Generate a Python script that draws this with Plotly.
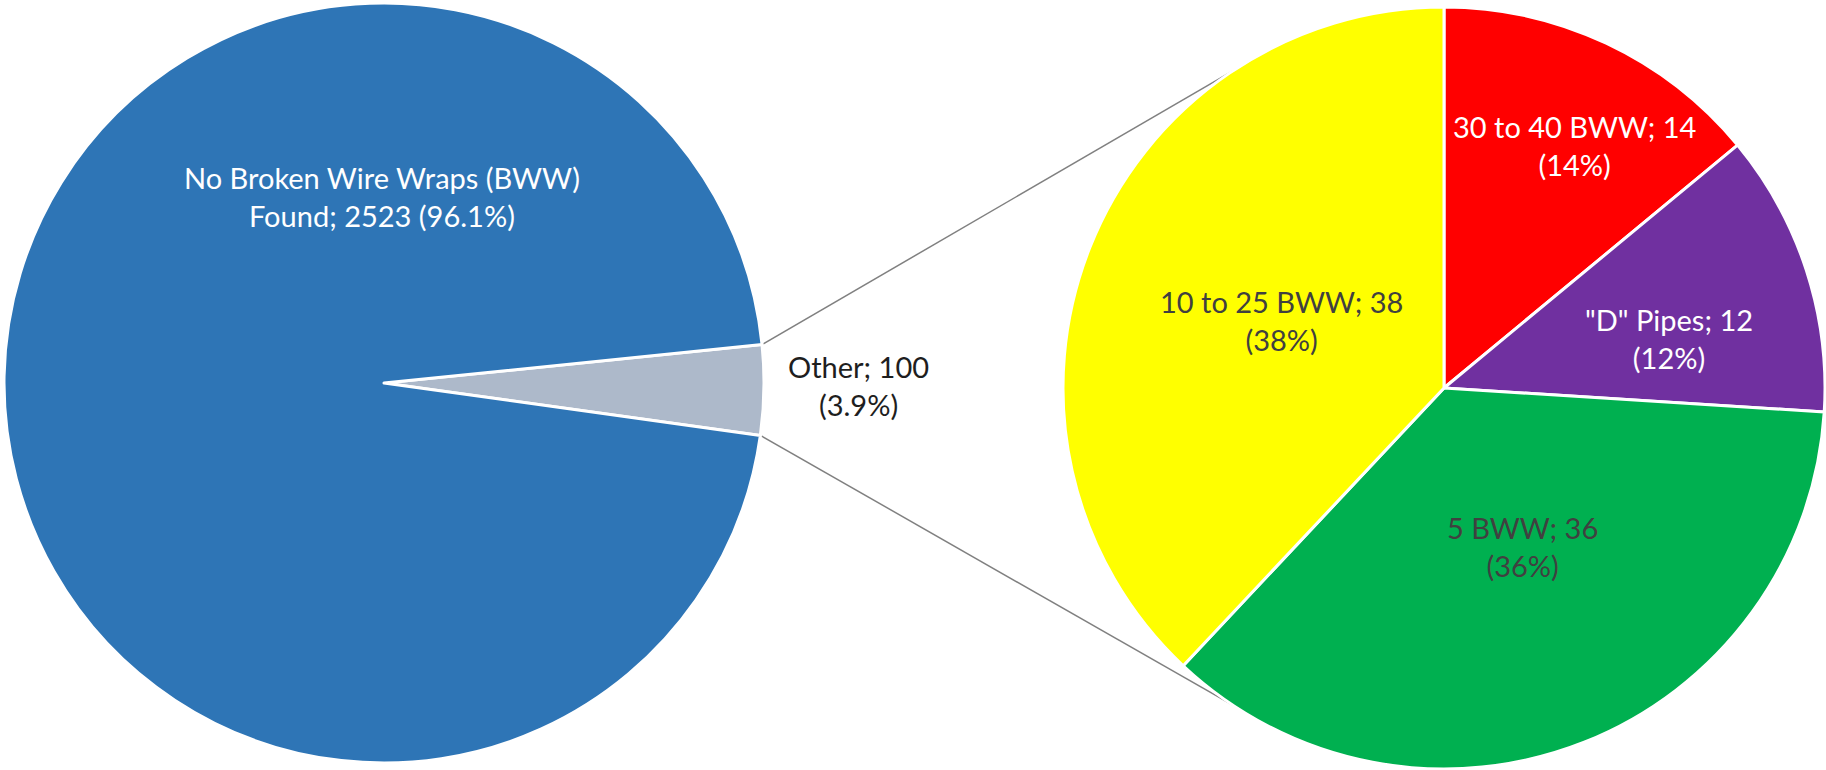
import math
import plotly.graph_objects as go

W, H = 1826, 770

# ---- data ----
main_labels = ["Other", "No Broken Wire Wraps (BWW) Found"]
main_values = [100, 2523]
main_pct = ["3.9%", "96.1%"]
main_colors = ["#ADB9CA", "#2E75B6"]
main_text_colors = ["#1E1E1E", "#FFFFFF"]

sub_labels = ["30 to 40 BWW", '"D" Pipes', "5 BWW", "10 to 25 BWW"]
sub_values = [14, 12, 36, 38]
sub_pct = ["14%", "12%", "36%", "38%"]
sub_colors = ["#FF0000", "#7030A0", "#00B050", "#FFFF00"]
sub_text_colors = ["#FFFFFF", "#FFFFFF", "#404040", "#404040"]

# ---- layout geometry (pixels) ----
L_CX, L_CY, L_R = 384, 383, 380
R_CX, R_CY, R_R = 1444, 388, 381
MAIN_ROT = 84.2          # start of "Other" slice, clockwise from 12 o'clock
CONNECT_ANG = 123.5      # where connector lines meet the second pie (deg from +x)

# label anchor positions (pixels)
main_label_pos = [(858, 386), (382, 197)]
sub_label_pos = [(1574, 146), (1669, 338), (1522, 546), (1281, 320)]

FONT = "Lato, Calibri, Carlito, 'Open Sans', sans-serif"
FS = 29


def dom(cx, cy, r):
    return dict(x=[(cx - r) / W, (cx + r) / W],
                y=[1 - (cy + r) / H, 1 - (cy - r) / H])


def two_lines(label, value, pct):
    first = f"{label}; {value}"
    if len(first) > 20:
        head, tail = label.rsplit(" ", 1)
        return f"{head}<br>{tail}; {value} ({pct})"
    return f"{first}<br>({pct})"


fig = go.Figure()
fig.add_trace(go.Pie(
    labels=main_labels, values=main_values, sort=False,
    direction="clockwise", rotation=MAIN_ROT,
    marker=dict(colors=main_colors, line=dict(color="white", width=3)),
    textinfo="none", hoverinfo="label+value", showlegend=False,
    domain=dom(L_CX, L_CY, L_R),
))
fig.add_trace(go.Pie(
    labels=sub_labels, values=sub_values, sort=False,
    direction="clockwise", rotation=0,
    marker=dict(colors=sub_colors, line=dict(color="white", width=3)),
    textinfo="none", hoverinfo="label+value", showlegend=False,
    domain=dom(R_CX, R_CY, R_R),
))

annotations = []
for lab, val, pct, col, (px, py) in zip(main_labels, main_values, main_pct,
                                         main_text_colors, main_label_pos):
    annotations.append(dict(
        x=px / W, y=1 - py / H, xref="paper", yref="paper",
        text=two_lines(lab, val, pct), showarrow=False,
        font=dict(family=FONT, size=FS, color=col),
        xanchor="center", yanchor="middle", align="center"))
for lab, val, pct, col, (px, py) in zip(sub_labels, sub_values, sub_pct,
                                         sub_text_colors, sub_label_pos):
    annotations.append(dict(
        x=px / W, y=1 - py / H, xref="paper", yref="paper",
        text=two_lines(lab, val, pct), showarrow=False,
        font=dict(family=FONT, size=FS, color=col),
        xanchor="center", yanchor="middle", align="center"))

# connector lines from the "Other" slice corners to the second pie
span = 360.0 * main_values[0] / sum(main_values)
a0 = math.radians(MAIN_ROT - 90)
a1 = math.radians(MAIN_ROT - 90 + span)
shapes = []
for a_left, a_right in ((a0, -CONNECT_ANG), (a1, CONNECT_ANG)):
    x0 = L_CX + L_R * math.cos(a_left)
    y0 = L_CY + L_R * math.sin(a_left)
    ar = math.radians(a_right)
    x1 = R_CX + R_R * math.cos(ar)
    y1 = R_CY + R_R * math.sin(ar)
    shapes.append(dict(type="line", xref="paper", yref="paper",
                       x0=x0 / W, y0=1 - y0 / H, x1=x1 / W, y1=1 - y1 / H,
                       line=dict(color="#808080", width=1.5), layer="below"))

fig.update_layout(
    width=W, height=H,
    margin=dict(l=0, r=0, t=0, b=0),
    paper_bgcolor="white", plot_bgcolor="white",
    annotations=annotations, shapes=shapes,
    showlegend=False,
)

fig.write_html("out.html")
